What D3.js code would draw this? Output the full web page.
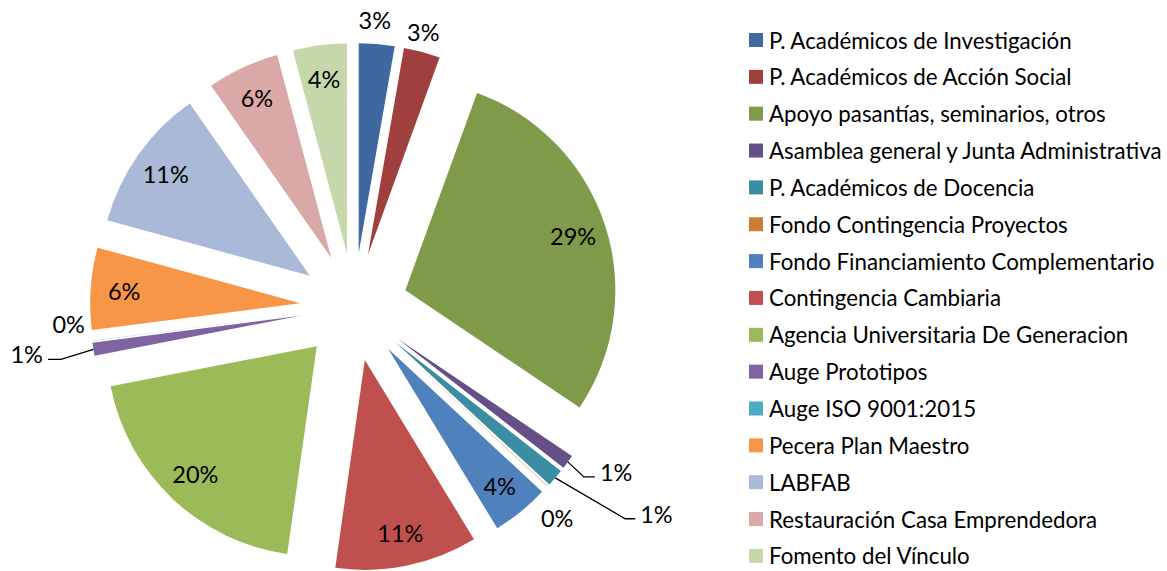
<!DOCTYPE html>
<html>
<head>
<meta charset="utf-8">
<script src="https://cdn.jsdelivr.net/npm/d3@7"></script>
<style>
  body { margin: 0; background: #fff; }
  text { font-family: Lato, "Open Sans", sans-serif; fill: #000; }
</style>
</head>
<body>
<svg id="chart" width="1167" height="571"></svg>
<script>
// categories, in the order the slices run clockwise from 12 o'clock
let categories = [
  'P. Académicos de Investigación',
  'P. Académicos de Acción Social',
  'Apoyo pasantías, seminarios, otros',
  'Asamblea general y Junta Administrativa',
  'P. Académicos de Docencia',
  'Fondo Contingencia Proyectos',
  'Fondo Financiamiento Complementario',
  'Contingencia Cambiaria',
  'Agencia Universitaria De Generacion',
  'Auge Prototipos',
  'Auge ISO 9001:2015',
  'Pecera Plan Maestro',
  'LABFAB',
  'Restauración Casa Emprendedora',
  'Fomento del Vínculo'
]

// share of the budget (percent)
let values = [2.75, 2.8, 28.9, 1.1, 1.35, 0.03, 4.4, 10.95, 19.7, 1.0, 0.03, 6.3, 11.05, 5.55, 4.15]

let colors = [
  '#3F689E', '#A0403E', '#7F9A48', '#644F86', '#3A8DA3', '#CD7C37',
  '#4F81BD', '#C0504D', '#9BBB59', '#8064A2', '#4BACC6', '#F79646',
  '#A9B9D7', '#D9A8A7', '#C6D7AB'
]

// ---- layout ----
let width = 1167, height = 571
let cx = 354, cy = 307
let radius = 210
let explode = 54
let labelSize = 23.5
let legendSize = 22.3

// how each data label sits (Excel "best fit" look)
let labelLayout = {
  'P. Académicos de Investigación': { kind: 'out', r: 24, shift: -1 },
  'P. Académicos de Acción Social': { kind: 'out', r: 20, shift: -1 },
  'Asamblea general y Junta Administrativa': { kind: 'leader', reach: 22, turn: 7, tail: 11 },
  'P. Académicos de Docencia': { kind: 'leader', reach: 81, turn: -10, tail: 10 },
  'Fondo Contingencia Proyectos': { kind: 'out', r: 29, shift: 4 },
  'Auge Prototipos': { kind: 'leader', reach: 34, turn: -8, tail: 13 },
  'Auge ISO 9001:2015': { kind: 'out', r: 22, shift: 5 }
}

let svg = d3.select('#chart')
let total = d3.sum(values)
let pct = d3.format('.0%')

let pie = d3.pie().sort(null).value(d => d.value)
let arc = d3.arc().innerRadius(0).outerRadius(radius)

let rows = categories.map((c, i) => ({ name: c, value: values[i], color: colors[i] }))
let slices = pie(rows)

// unit vector for an angle measured clockwise from 12 o'clock
let unit = (a) => [Math.sin(a), -Math.cos(a)]
let rad = (deg) => deg * Math.PI / 180

slices.forEach(s => {
  s.mid = (s.startAngle + s.endAngle) / 2
  let u = unit(s.mid)
  s.ox = explode * u[0]
  s.oy = explode * u[1]
})

let pieG = svg.append('g').attr('transform', `translate(${cx},${cy})`)

pieG.selectAll('path')
  .data(slices)
  .enter()
  .append('path')
  .attr('d', arc)
  .attr('fill', d => d.data.color)
  .attr('transform', d => `translate(${d.ox},${d.oy})`)

// data labels
let labelG = pieG.append('g')
slices.forEach(s => {
  let lay = labelLayout[s.data.name] || { kind: 'in' }
  let text = pct(s.data.value / total)
  if (lay.kind === 'in') {
    let u = unit(s.mid)
    labelG.append('text')
      .attr('x', s.ox + radius * 0.84 * u[0])
      .attr('y', s.oy + radius * 0.84 * u[1])
      .attr('text-anchor', 'middle')
      .attr('dominant-baseline', 'central')
      .attr('font-size', labelSize)
      .text(text)
  } else if (lay.kind === 'out') {
    let u = unit(s.mid + rad(lay.shift))
    labelG.append('text')
      .attr('x', s.ox + (radius + lay.r) * u[0])
      .attr('y', s.oy + (radius + lay.r) * u[1])
      .attr('text-anchor', 'middle')
      .attr('dominant-baseline', 'central')
      .attr('font-size', labelSize)
      .text(text)
  } else {
    let u = unit(s.mid)
    let start = [s.ox + radius * u[0], s.oy + radius * u[1]]
    let v = unit(s.mid + rad(lay.turn))
    let elbow = [start[0] + lay.reach * v[0], start[1] + lay.reach * v[1]]
    let side = u[0] >= 0 ? 1 : -1
    let end = [elbow[0] + side * lay.tail, elbow[1]]
    labelG.append('path')
      .attr('d', d3.line()([start, elbow, end]))
      .attr('fill', 'none')
      .attr('stroke', '#000')
      .attr('stroke-width', 1.3)
    labelG.append('text')
      .attr('x', end[0] + side * 5)
      .attr('y', end[1] - 5)
      .attr('text-anchor', side > 0 ? 'start' : 'end')
      .attr('dominant-baseline', 'central')
      .attr('font-size', labelSize)
      .text(text)
  }
})

// legend
let legendX = 749, legendY = 40, legendStep = 36.85, box = 14
let legend = svg.append('g')
  .selectAll('g')
  .data(rows)
  .enter()
  .append('g')
  .attr('transform', (d, i) => `translate(${legendX},${legendY + i * legendStep})`)

legend.append('rect')
  .attr('x', 0)
  .attr('y', -box / 2)
  .attr('width', box)
  .attr('height', box)
  .attr('fill', d => d.color)

legend.append('text')
  .attr('x', 20)
  .attr('y', 0)
  .attr('dominant-baseline', 'central')
  .attr('font-size', legendSize)
  .text(d => d.name)
</script>
</body>
</html>
